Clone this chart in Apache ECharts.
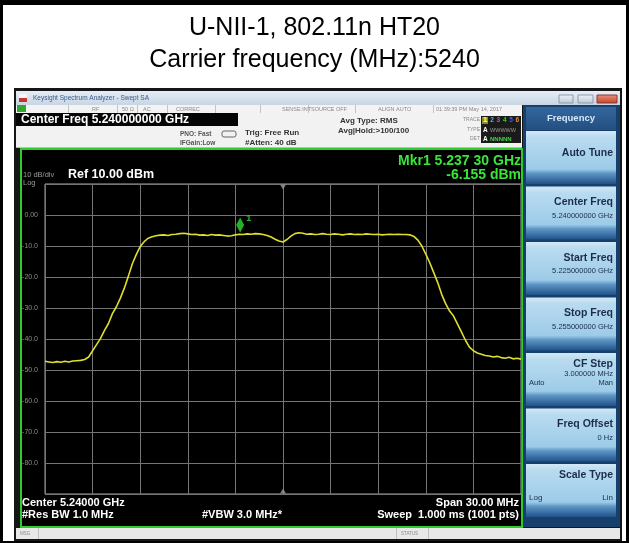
<!DOCTYPE html>
<html><head><meta charset="utf-8">
<script src="https://cdn.jsdelivr.net/npm/echarts@6/dist/echarts.min.js"></script>
<style>html,body{margin:0;padding:0;background:#fff}#c{width:629px;height:543px}</style>
</head><body><div id="c"></div><script>
// ---- data ----
const titleLines = ["U-NII-1, 802.11n HT20", "Carrier frequency (MHz):5240"];
const sweepStartMHz = 5225;
const sweepStopMHz = 5255;
const divMHz = 3;
const sampleStepMHz = 0.25;
// trace level (dBm) at 0.25 MHz steps from 5225 MHz to 5255 MHz
const traceDbm = [
  -47.2,-47.4,-47.6,-47.3,-47.5,-47.2,-47.4,-47.1,-47.0,-46.9,
  -46.6,-45.8,-43.8,-41.8,-39.8,-37.2,-35.0,-31.8,-29.6,-26.8,
  -23.6,-19.8,-15.8,-12.8,-10.2,-8.6,-7.5,-7.0,
  -6.7,-6.5,-6.4,-6.6,-6.3,-6.2,-6.0,-5.9,-6.1,-6.3,
  -6.2,-6.5,-6.4,-6.6,-6.3,-6.5,-6.4,-6.6,-6.8,-6.7,
  -6.4,-6.2,-6.3,-6.1,-6.2,-6.0,-6.1,-6.3,-6.6,-7.1,
  -7.8,-8.4,-8.7,-7.9,-6.8,-6.0,-5.7,-5.9,-6.2,-6.1,
  -6.3,-6.2,-6.0,-6.2,-6.3,-6.1,-6.2,-6.4,-6.2,-6.1,
  -6.3,-6.2,-6.3,-6.1,-6.2,-6.3,-6.2,-6.4,-6.3,-6.2,
  -6.3,-6.2,-6.3,-6.3,-6.4,
  -6.9,-8.1,-10.0,-12.6,-15.4,-18.6,-21.8,-25.6,-28.6,-31.0,
  -32.6,-35.2,-37.8,-40.4,-42.6,-43.8,-44.5,-44.9,-45.3,-45.5,
  -45.8,-45.6,-46.0,-46.2,-45.9,-46.4,-46.2,-46.5
];
const refLevelDbm = 10;
const bottomDbm = -90;
const dbPerDiv = 10;
const yTickLabels = ["", "0.00", "-10.0", "-20.0", "-30.0", "-40.0", "-50.0", "-60.0", "-70.0", "-80.0", ""];
const markerFreqMHz = 5237.3;
const markerDbm = -6.155;
const centerFreqMHz = 5240;
const softkeys = [
  {title: "Auto Tune", lines: []},
  {title: "Center Freq", lines: ["5.240000000 GHz"]},
  {title: "Start Freq", lines: ["5.225000000 GHz"]},
  {title: "Stop Freq", lines: ["5.255000000 GHz"]},
  {title: "CF Step", lines: ["3.000000 MHz"], left: "Auto", right: "Man"},
  {title: "Freq Offset", lines: ["0 Hz"]},
  {title: "Scale Type", lines: [], left: "Log", right: "Lin"}
];

// ---- build ----
const FONT = "'Liberation Sans', Arial, sans-serif";
const traceData = traceDbm.map((v, i) => [sweepStartMHz + i * sampleStepMHz, v]);

function txt(x, y, s, o) {
  o = o || {};
  return {type: 'text', x: x, y: y, z: o.z || 50, silent: true,
    style: {text: s, fill: o.fill || '#fff', font: (o.weight || 'normal') + ' ' + (o.size || 10) + 'px ' + FONT,
      textAlign: o.align || 'left', textVerticalAlign: 'middle', textDecoration: o.u ? 'underline' : 'none'}};
}
function rect(x, y, w, h, fill, o) {
  o = o || {};
  return {type: 'rect', z: o.z || 1, silent: true, shape: {x: x, y: y, width: w, height: h, r: o.r || 0},
    style: {fill: fill, stroke: o.stroke || null, lineWidth: o.lw || 1}};
}
function line(x1, y1, x2, y2, c, lw) {
  return {type: 'line', z: 5, silent: true, shape: {x1: x1, y1: y1, x2: x2, y2: y2}, style: {stroke: c, lineWidth: lw || 1}};
}
function grad(stops) {
  return new echarts.graphic.LinearGradient(0, 0, 0, 1, stops.map(s => ({offset: s[0], color: s[1]})));
}

const G = [];
// outer frame
G.push(rect(0, 0, 629, 5, '#000'));
G.push(rect(0, 0, 3, 543, '#000'));
G.push(rect(626, 0, 3, 543, '#000'));
G.push(rect(0, 541, 629, 2, '#000'));
// screenshot frame
G.push(rect(14, 88, 608, 453, '#151515'));
// window title bar
G.push(rect(16, 91, 604, 14, grad([[0, '#e6eef6'], [1, '#c7d5e4']]), {z: 2}));
G.push(rect(19, 94, 8, 8, grad([[0, '#f4f4f4'], [0.5, '#f4f4f4'], [0.51, '#c8302a'], [1, '#c8302a']]), {z: 3}));
G.push(txt(33, 98, "Keysight Spectrum Analyzer - Swept SA", {size: 6.5, fill: '#3a5a86'}));
G.push(rect(559, 95, 14, 8, grad([[0, '#f0f4f8'], [1, '#b8c8d8']]), {z: 3, stroke: '#8a9bb0'}));
G.push(rect(578, 95, 15, 8, grad([[0, '#f0f4f8'], [1, '#b8c8d8']]), {z: 3, stroke: '#8a9bb0'}));
G.push(rect(597, 95, 20, 8, grad([[0, '#e8957f'], [1, '#c5402c']]), {z: 3, stroke: '#8a3a2a'}));
// status row
G.push(rect(16, 105, 506, 8, '#f3f3f3', {z: 2}));
G.push(rect(17, 105, 9, 7, '#2faa2f', {z: 3}));
[68, 117, 137, 167, 215, 260, 308, 355, 433].forEach(x => G.push(line(x + 0.5, 105, x + 0.5, 113, '#c4c4c4')));
[[92, "RF"], [122, "50 Ω"], [143, "AC"], [176, "CORREC"], [282, "SENSE:INT"], [311, "SOURCE OFF"], [378, "ALIGN AUTO"], [436, "01:39:39 PM May 14, 2017"]]
  .forEach(a => G.push(txt(a[0], 109, a[1], {size: 5.5, fill: '#8a8a8a'})));
// info area
G.push(rect(16, 113, 506, 35, '#f2f2f2', {z: 2}));
G.push(rect(16, 113, 222, 13, '#050505', {z: 3}));
G.push(txt(21, 119.5, "Center Freq 5.240000000 GHz", {size: 12, weight: 'bold'}));
G.push(txt(180, 134, "PNO: Fast", {size: 6.5, fill: '#555', weight: 'bold'}));
G.push(txt(180, 143, "IFGain:Low", {size: 6.5, fill: '#555', weight: 'bold'}));
G.push(rect(222, 131, 14, 6, 'none', {z: 3, stroke: '#666', r: 2}));
G.push(txt(245, 133, "Trig: Free Run", {size: 8, fill: '#333', weight: 'bold'}));
G.push(txt(245, 143, "#Atten: 40 dB", {size: 8, fill: '#333', weight: 'bold'}));
G.push(txt(340, 121, "Avg Type: RMS", {size: 8, fill: '#333', weight: 'bold'}));
G.push(txt(338, 131, "Avg|Hold:>100/100", {size: 8, fill: '#333', weight: 'bold'}));
G.push(txt(480, 120, "TRACE", {size: 5, fill: '#888', align: 'right'}));
G.push(txt(480, 130, "TYPE", {size: 5, fill: '#888', align: 'right'}));
G.push(txt(480, 139, "DET", {size: 5, fill: '#888', align: 'right'}));
G.push(rect(481, 116, 40, 27, '#1a1a1a', {z: 3}));
const trCols = ['#e8e830', '#30c8e8', '#e040e0', '#30d030', '#4060ff', '#e89030'];
trCols.forEach((c, i) => G.push(txt(484 + i * 6.3, 120.5, String(i + 1), {size: 6.5, fill: c, weight: 'bold'})));
G.push(rect(482, 117, 6, 7, '#8a8a20', {z: 4}));
G.push(txt(483, 120.5, "1", {size: 6.5, fill: '#ffff60', weight: 'bold', z: 51}));
G.push(txt(483, 130, "A", {size: 6.5, fill: '#fff', weight: 'bold'}));
G.push(txt(490, 130, "WWWWW", {size: 5.5, fill: '#9a9a9a'}));
G.push(txt(483, 139, "A", {size: 6.5, fill: '#fff', weight: 'bold'}));
G.push(txt(490, 139, "NNNNN", {size: 6, fill: '#40d040', weight: 'bold'}));
G.push(line(16, 147.5, 522, 147.5, '#bdbdbd'));
// green display frame
G.push(rect(21, 149, 501, 378, '#000', {z: 2, stroke: '#2ccc2c', lw: 2}));
G.push(txt(23, 175, "10 dB/div", {size: 7.5, fill: '#9a9a9a'}));
G.push(txt(23, 183, "Log", {size: 7.5, fill: '#9a9a9a'}));
G.push(txt(68, 175, "Ref 10.00 dBm", {size: 12.5, weight: 'bold'}));
G.push(txt(521, 161, "Mkr1 5.237 30 GHz", {size: 14, weight: 'bold', fill: '#39e639', align: 'right'}));
G.push(txt(521, 175, "-6.155 dBm", {size: 14, weight: 'bold', fill: '#39e639', align: 'right'}));
G.push(txt(22, 503, "Center 5.24000 GHz", {size: 11, weight: 'bold'}));
G.push(txt(22, 515, "#Res BW 1.0 MHz", {size: 11, weight: 'bold'}));
G.push(txt(202, 515, "#VBW 3.0 MHz*", {size: 11, weight: 'bold'}));
G.push(txt(519, 503, "Span 30.00 MHz", {size: 11, weight: 'bold', align: 'right'}));
G.push(txt(519, 515, "Sweep  1.000 ms (1001 pts)", {size: 11, weight: 'bold', align: 'right'}));
// MSG bar
G.push(rect(16, 528, 604, 11, '#e8e8e8', {z: 2}));
G.push(line(38.5, 528, 38.5, 539, '#c0c0c0'));
G.push(line(396.5, 528, 396.5, 539, '#c0c0c0'));
G.push(line(428.5, 528, 428.5, 539, '#c0c0c0'));
G.push(txt(20, 533.5, "MSG", {size: 4.5, fill: '#888'}));
G.push(txt(401, 533.5, "STATUS", {size: 4.5, fill: '#888'}));
// softkey panel
G.push(rect(523, 105, 97, 422, '#173f6b', {z: 2}));
G.push(rect(526, 107, 90, 23, grad([[0, '#3467a0'], [1, '#234f80']]), {z: 3}));
G.push(txt(571, 118, "Frequency", {size: 9.5, weight: 'bold', fill: '#d6e8f8', align: 'center'}));
softkeys.forEach((k, i) => {
  const top = 131 + i * 55.5;
  G.push(rect(526, top, 90, 53, grad([[0, '#d2e8f6'], [0.12, '#b9dbf0'], [0.72, '#9ccbe8'], [0.8, '#5d95c4'], [1, '#20528a']]), {z: 3}));
  const X = 613;
  if (i === 0) {
    G.push(txt(X, top + 22, k.title, {size: 10.5, weight: 'bold', fill: '#1c2c4c', align: 'right'}));
  } else if (k.left && k.lines.length) {
    G.push(txt(X, top + 11, k.title, {size: 10.5, weight: 'bold', fill: '#1c2c4c', align: 'right'}));
    G.push(txt(X, top + 21, k.lines[0], {size: 7.5, fill: '#1c2c4c', align: 'right'}));
    G.push(txt(529, top + 30, k.left, {size: 7.5, fill: '#1c2c4c', u: true}));
    G.push(txt(X, top + 30, k.right, {size: 7.5, fill: '#1c2c4c', align: 'right'}));
  } else if (k.left) {
    G.push(txt(X, top + 11, k.title, {size: 10.5, weight: 'bold', fill: '#1c2c4c', align: 'right'}));
    G.push(txt(529, top + 34, k.left, {size: 8, fill: '#1c2c4c'}));
    G.push(txt(X, top + 34, k.right, {size: 8, fill: '#1c2c4c', align: 'right', u: true}));
  } else {
    G.push(txt(X, top + 16, k.title, {size: 10.5, weight: 'bold', fill: '#1c2c4c', align: 'right'}));
    G.push(txt(X, top + 29, k.lines[0], {size: 7.5, fill: '#1c2c4c', align: 'right'}));
  }
});
// title
G.push(txt(314.5, 28, titleLines[0], {size: 25, fill: '#000', align: 'center'}));
G.push(txt(314.5, 60, titleLines[1], {size: 25, fill: '#000', align: 'center'}));

const chart = echarts.init(document.getElementById('c'), null, {renderer: 'canvas'});
chart.setOption({
  animation: false,
  backgroundColor: '#fff',
  graphic: {elements: G},
  grid: {left: 45, top: 184, width: 476, height: 310, show: true, borderColor: '#a5a5a5', borderWidth: 1, backgroundColor: 'transparent', z: 10},
  xAxis: {type: 'value', min: sweepStartMHz, max: sweepStopMHz, interval: divMHz, z: 10,
    axisLine: {show: false}, axisTick: {show: false}, axisLabel: {show: false},
    splitLine: {show: true, lineStyle: {color: '#747474', width: 1}}},
  yAxis: {type: 'value', min: bottomDbm, max: refLevelDbm, interval: dbPerDiv, z: 10,
    axisLine: {show: false}, axisTick: {show: false},
    axisLabel: {color: '#8c8c8c', fontSize: 7, fontFamily: FONT, margin: 7,
      formatter: v => yTickLabels[Math.round((refLevelDbm - v) / dbPerDiv)]},
    splitLine: {show: true, lineStyle: {color: '#747474', width: 1}}},
  series: [
    {type: 'line', data: traceData, showSymbol: false, z: 20,
      lineStyle: {color: '#dede2e', width: 1.6}},
    {type: 'scatter', data: [[markerFreqMHz, markerDbm]], symbol: 'diamond', symbolSize: [8, 15], symbolOffset: [0, -9], z: 21,
      itemStyle: {color: '#2ee02e'},
      label: {show: true, formatter: '1', position: 'right', offset: [-3, -7], color: '#39e639', fontSize: 9, fontWeight: 'bold', fontFamily: FONT}},
    {type: 'scatter', data: [[centerFreqMHz, refLevelDbm]], symbol: 'triangle', symbolRotate: 180, symbolSize: [6, 5], symbolOffset: [0, 3], z: 21, itemStyle: {color: '#9a9a9a'}},
    {type: 'scatter', data: [[centerFreqMHz, bottomDbm]], symbol: 'triangle', symbolSize: [6, 5], symbolOffset: [0, -3], z: 21, itemStyle: {color: '#9a9a9a'}}
  ]
});
</script></body></html>
